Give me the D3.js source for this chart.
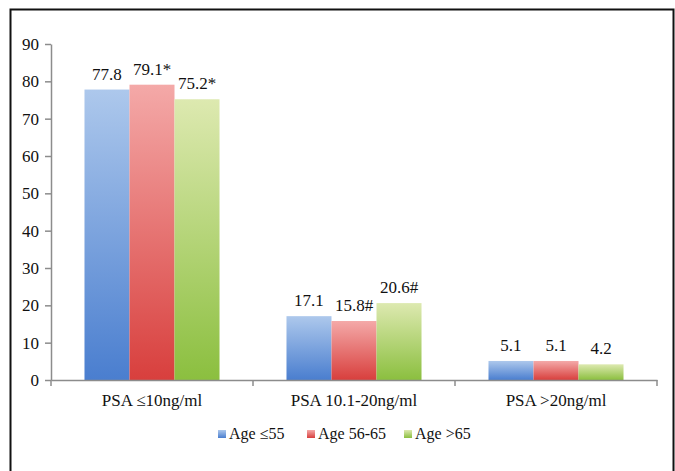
<!DOCTYPE html>
<html>
<head>
<meta charset="utf-8">
<script src="https://cdn.jsdelivr.net/npm/d3@7"></script>
<style>
  body { margin: 0; background: #fff; }
  svg text { font-family: 'Liberation Serif', 'Times New Roman', serif; fill: #111; }
</style>
</head>
<body>
<div id="chart"></div>
<script>
// data
var categories = ['PSA \u226410ng/ml', 'PSA 10.1-20ng/ml', 'PSA >20ng/ml'];
var series = ['Age \u226455', 'Age 56-65', 'Age >65'];
var values_age55 = [77.8, 17.1, 5.1];
var values_age5665 = [79.1, 15.8, 5.1];
var values_age65 = [75.2, 20.6, 4.2];
var labels_age55 = ['77.8', '17.1', '5.1'];
var labels_age5665 = ['79.1*', '15.8#', '5.1'];
var labels_age65 = ['75.2*', '20.6#', '4.2'];
var yticks = [0, 10, 20, 30, 40, 50, 60, 70, 80, 90];

var allValues = [values_age55, values_age5665, values_age65];
var allLabels = [labels_age55, labels_age5665, labels_age65];

// gradient colours, top -> bottom
var colours = [
    ['#adc8ec', '#4a7ecf'],
    ['#f4a9a8', '#d83f3d'],
    ['#dde9b0', '#8bbf3f']
];

var svgwidth = 675, svgheight = 471;
var svg = d3.select('#chart').append('svg')
    .attr('width', svgwidth)
    .attr('height', svgheight);

// outer frame
svg.append('rect')
    .attr('x', 10.5).attr('y', 9.5)
    .attr('width', 663).attr('height', 480)
    .attr('fill', '#fff')
    .attr('stroke', '#111')
    .attr('stroke-width', 2);

var defs = svg.append('defs');
colours.forEach(function(c, i) {
    var g = defs.append('linearGradient')
        .attr('id', 'grad' + i)
        .attr('x1', 0).attr('y1', 0).attr('x2', 0).attr('y2', 1);
    g.append('stop').attr('offset', '0%').attr('stop-color', c[0]);
    g.append('stop').attr('offset', '100%').attr('stop-color', c[1]);
});

var plotLeft = 51, plotRight = 657, plotTop = 44, plotBottom = 380;

var xscale = d3.scaleBand()
    .domain(categories)
    .range([plotLeft, plotRight])
    .padding(0);

var xinner = d3.scaleBand()
    .domain(series)
    .range([0, xscale.bandwidth()])
    .paddingInner(0)
    .paddingOuter(0.744);

var yscale = d3.scaleLinear()
    .domain([0, 90])
    .range([plotBottom, plotTop]);

// y axis
var yaxis = svg.append('g')
    .attr('transform', 'translate(' + plotLeft + ',0)')
    .call(d3.axisLeft(yscale).tickValues(yticks).tickSize(6).tickSizeOuter(0).tickPadding(6));
yaxis.select('.domain').attr('stroke', '#8c8c8c').attr('stroke-width', 1.5);
yaxis.selectAll('.tick line').attr('stroke', '#8c8c8c').attr('stroke-width', 1.5);
yaxis.selectAll('.tick text')
    .style('font-family', "'Liberation Serif', serif")
    .style('font-size', '17px')
    .attr('fill', '#111');

// bars
var groups = svg.selectAll('.group')
    .data(categories)
    .enter()
    .append('g')
    .attr('class', 'group')
    .attr('transform', function(d) { return 'translate(' + xscale(d) + ',0)'; });

series.forEach(function(s, si) {
    groups.append('rect')
        .attr('x', xinner(s))
        .attr('y', function(d, ci) { return yscale(allValues[si][ci]); })
        .attr('width', xinner.bandwidth())
        .attr('height', function(d, ci) { return plotBottom - yscale(allValues[si][ci]); })
        .attr('fill', 'url(#grad' + si + ')');

    groups.append('text')
        .attr('x', xinner(s) + xinner.bandwidth() / 2)
        .attr('y', function(d, ci) { return yscale(allValues[si][ci]) - 10; })
        .attr('text-anchor', 'middle')
        .style('font-size', '17px')
        .text(function(d, ci) { return allLabels[si][ci]; });
});

// x axis
var xaxis = svg.append('g')
    .attr('transform', 'translate(0,' + plotBottom + ')')
    .call(d3.axisBottom(xscale).tickSize(0).tickPadding(14));
xaxis.select('.domain').attr('stroke', '#8c8c8c').attr('stroke-width', 1.5);
xaxis.selectAll('.tick text')
    .style('font-family', "'Liberation Serif', serif")
    .style('font-size', '17px')
    .attr('fill', '#111');

// boundary ticks between categories
var bounds = categories.map(function(c) { return xscale(c); }).concat([plotRight]);
svg.selectAll('.bound')
    .data(bounds)
    .enter()
    .append('line')
    .attr('x1', function(d) { return d; })
    .attr('x2', function(d) { return d; })
    .attr('y1', plotBottom)
    .attr('y2', plotBottom + 6)
    .attr('stroke', '#8c8c8c')
    .attr('stroke-width', 1.5);

// legend
var legendX = [218, 307, 404];
var legend = svg.selectAll('.legend')
    .data(series)
    .enter()
    .append('g')
    .attr('class', 'legend')
    .attr('transform', function(d, i) { return 'translate(' + legendX[i] + ',430)'; });

legend.append('rect')
    .attr('width', 8)
    .attr('height', 8)
    .attr('fill', function(d, i) { return 'url(#grad' + i + ')'; });

legend.append('text')
    .attr('x', 11)
    .attr('y', 9)
    .style('font-size', '16px')
    .text(function(d) { return d; });
</script>
</body>
</html>
